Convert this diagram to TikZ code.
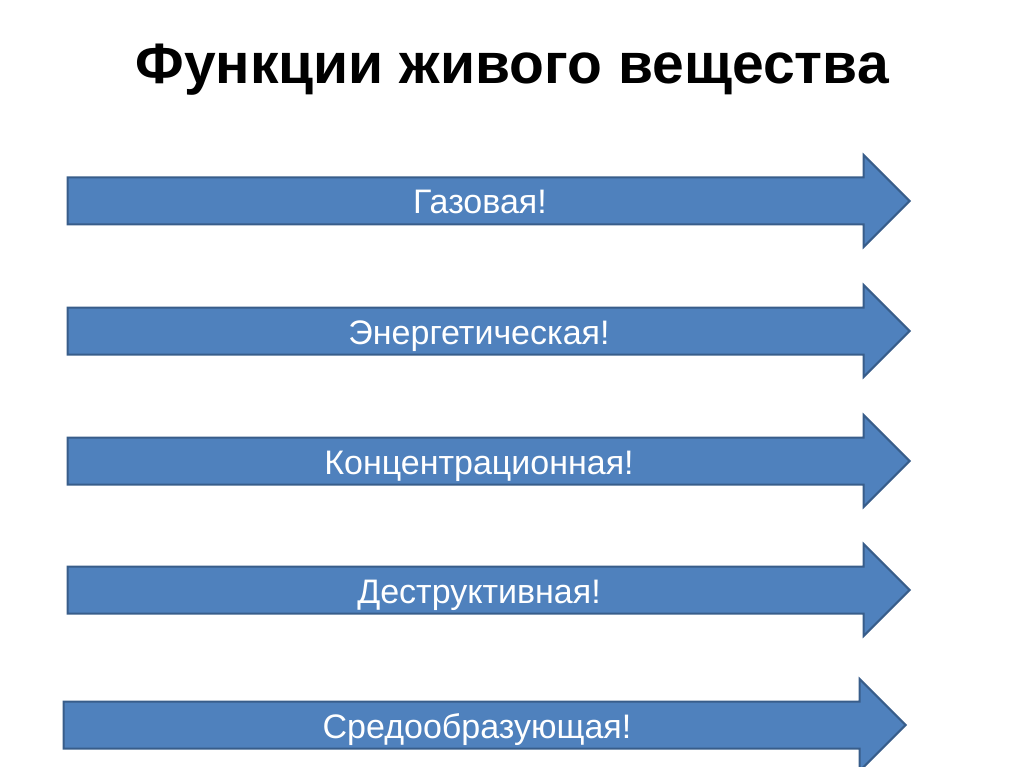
\documentclass[tikz,border=0pt]{standalone}
\usepackage{fontspec}
\setmainfont{Liberation Sans}
\usetikzlibrary{shapes.arrows}
\definecolor{arrowfill}{HTML}{4F81BD}
\definecolor{arrowline}{HTML}{385D8A}
\tikzstyle{func} = [draw=arrowline, fill=arrowfill, line width=2pt, single arrow,
single arrow head extend=22.5pt, inner xsep=0pt, inner ysep=22.5pt,
minimum height=842pt, anchor=tip]
\tikzstyle{functext} = [text=white, font=\fontsize{34}{34}\selectfont, anchor=base]

\begin{document}
\begin{tikzpicture}[x=1pt, y=-1pt]
    \useasboundingbox (0,0) rectangle (1024,767);
    % Title
    \node [font=\bfseries\fontsize{57}{57}\selectfont, anchor=base] at (512,84) (title) {Функции живого вещества};
    %% Arrows
    \node [func] at (911,201) (gas) {};
    \node [func] at (911,331) (energy) {};
    \node [func] at (911,461) (conc) {};
    \node [func] at (911,590) (destr) {};
    \node [func] at (907,725) (env) {};
    % Labels
    \node [functext] at (480,214) (gasText) {Газовая!};
    \node [functext] at (479,344) (energyText) {Энергетическая!};
    \node [functext] at (479,474) (concText) {Концентрационная!};
    \node [functext] at (479,603) (destrText) {Деструктивная!};
    \node [functext] at (477,738) (envText) {Средообразующая!};
\end{tikzpicture}
\end{document}
